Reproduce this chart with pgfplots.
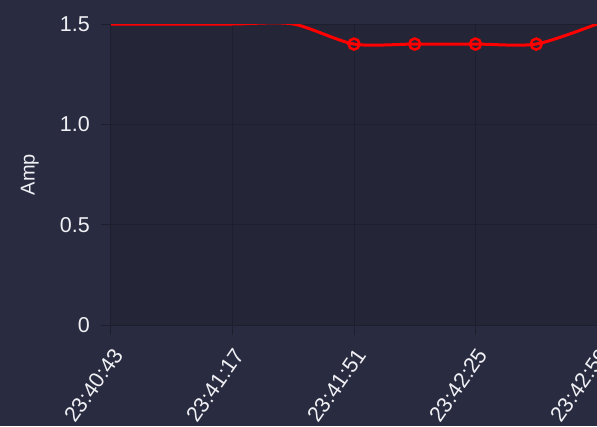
\documentclass[border=0pt]{standalone}
\usepackage{pgfplots}
\pgfplotsset{compat=1.18}
\usepackage{fontspec}
\setmainfont{Liberation Sans}
\definecolor{bgout}{RGB}{41,44,64}
\definecolor{bgin}{RGB}{36,37,54}
\definecolor{gridc}{RGB}{30,31,46}
\definecolor{txt}{RGB}{240,240,244}
\definecolor{linered}{RGB}{255,0,0}
\begin{document}
\begin{tikzpicture}[x=1pt,y=1pt]
\fill[bgout] (-111,-101) rectangle (486,325);
\begin{axis}[
  at={(0,0)}, anchor=south west,
  scale only axis, width=486pt, height=301pt,
  xmin=0, xmax=136, ymin=0, ymax=1.5,
  axis background/.style={fill=bgin},
  axis line style={draw=gridc, line width=1pt},
  axis x line*=bottom, axis y line*=left,
  grid=major, major grid style={draw=gridc, line width=1pt},
  tick align=outside, major tick length=10pt,
  tick style={draw=gridc, line width=1pt},
  xtick={0,34,68,102,136},
  xticklabels={23:40:43,23:41:17,23:41:51,23:42:25,23:42:59},
  ytick={0,0.5,1,1.5},
  yticklabels={0,0.5,1.0,1.5},
  /pgf/number format/assume math mode=true,
  ticklabel style={font=\fontsize{21.5}{21.5}\selectfont, text=txt},
  xticklabel style={rotate=55, anchor=north east, inner sep=1pt, yshift=-6pt, xshift=-8pt},
  yticklabel style={inner sep=2pt, xshift=-9pt},
  ylabel={Amp},
  ylabel style={font=\fontsize{20}{20}\selectfont, text=txt, at={(axis description cs:-0.167,0.5)}, anchor=center},
  clip=true,
]
\addplot[linered, line width=3pt, smooth, tension=0.45, mark=none]
  coordinates {(0,1.5) (17,1.5) (34,1.5) (51,1.5) (68,1.4) (85,1.4) (102,1.4) (119,1.4) (136,1.5)};
\addplot[linered, line width=2.5pt, only marks, mark=o, mark size=5.5pt]
  coordinates {(68,1.4) (85,1.4) (102,1.4) (119,1.4)};
\end{axis}
\pgfresetboundingbox
\path[use as bounding box] (-111,-101) rectangle (486,325);
\end{tikzpicture}
\end{document}
